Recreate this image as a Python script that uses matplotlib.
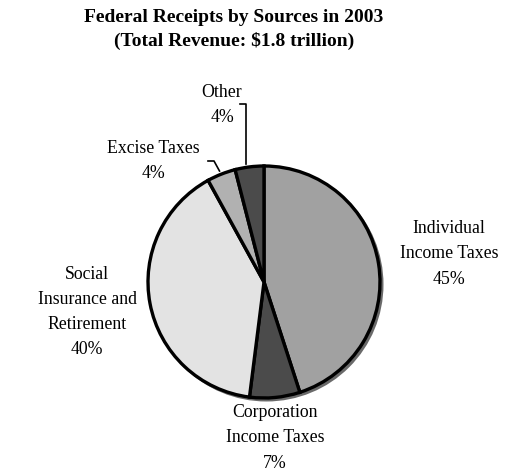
import matplotlib
matplotlib.use("Agg")
import matplotlib.pyplot as plt
from matplotlib.patches import Circle

categories = ["Individual\nIncome Taxes", "Corporation\nIncome Taxes",
              "Social\nInsurance and\nRetirement", "Excise Taxes", "Other"]
values = [45, 7, 40, 4, 4]
colors = ["#a1a1a1", "#4b4b4b", "#e3e3e3", "#b1b1b1", "#4b4b4b"]

plt.rcParams['font.family'] = ['Liberation Serif', 'DejaVu Serif']

W, H = 511, 475
fig = plt.figure(figsize=(W / 100, H / 100), dpi=100)
ax = fig.add_axes([0, 0, 1, 1])
ax.set_xlim(0, W)
ax.set_ylim(0, H)
ax.set_aspect('equal')
ax.axis('off')

cx, cy, r = 264, H - 282, 116

# shadow
ax.add_patch(Circle((cx + 2.5, cy - 2.5), r + 1, facecolor="#6a6a6a", edgecolor="none", zorder=0))

wedges, _ = ax.pie(values, colors=colors, startangle=90, counterclock=False,
                   center=(cx, cy), radius=r, frame=True,
                   wedgeprops=dict(edgecolor="black", linewidth=2.4))
for w in wedges:
    w.set_zorder(2)
ax.set_xlim(0, W)
ax.set_ylim(0, H)
ax.axis('off')

fs = 12.8
def lab(x, y, s):
    ax.text(x, H - y, s, ha="center", va="center", fontsize=fs, linespacing=1.62)

lab(449, 254, f"{categories[0]}\n{values[0]}%")
lab(275, 438, f"{categories[1]}\n{values[1]}%")
lab(87, 312, f"{categories[2]}\n{values[2]}%")
lab(153, 161, f"{categories[3]}\n{values[3]}%")
lab(222, 105, f"{categories[4]}\n{values[4]}%")

# leader lines
ax.plot([240, 246, 246], [H - 104, H - 104, H - 164], color="black", lw=1.2, zorder=1)
ax.plot([208, 214, 219.5], [H - 161, H - 161, H - 171], color="black", lw=1.2, zorder=1)

fig.text(234 / W, 1 - 17 / H, "Federal Receipts by Sources in 2003", ha="center", va="center",
         fontsize=14, fontweight="bold")
fig.text(234 / W, 1 - 41 / H, "(Total Revenue: $1.8 trillion)", ha="center", va="center",
         fontsize=14, fontweight="bold")

fig.savefig("out.png", dpi=100, facecolor="white")
